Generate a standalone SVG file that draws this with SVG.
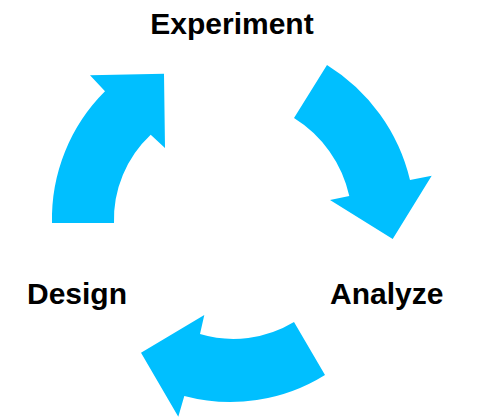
<svg xmlns="http://www.w3.org/2000/svg" width="492" height="418" viewBox="0 0 492 418">
<style>
.arrow{fill:#00BFFF;stroke:none}
.label{font-family:"Liberation Sans",Arial,sans-serif;font-weight:bold;font-size:30px;fill:#000}
</style>
<rect width="492" height="418" fill="#fff"/>
<g id="connectors">
<path class="arrow" d="M52,223 L114,223 A116,116 0 0,1 150.7,134.7 L165,148 L164,73.7 L90,75.3 L105,91.3 A180,180 0 0,0 52,223 Z"/>
<path class="arrow" d="M327,65 A186,186 0 0,1 410,180 L431.7,175.7 L392.7,239 L330,200 L349.3,196 A123,123 0 0,0 294,118 Z"/>
<path class="arrow" d="M325,375 A179,179 0 0,1 184.3,396 L178.3,416.7 L141,352.7 L204.3,315 L200,334 A117,117 0 0,0 294,322 Z"/>
</g>
<g id="experiment"><text class="label" x="232" y="34" text-anchor="middle">Experiment</text></g>
<g id="design"><text class="label" x="27" y="304">Design</text></g>
<g id="analyze"><text class="label" x="330" y="304">Analyze</text></g>
</svg>
